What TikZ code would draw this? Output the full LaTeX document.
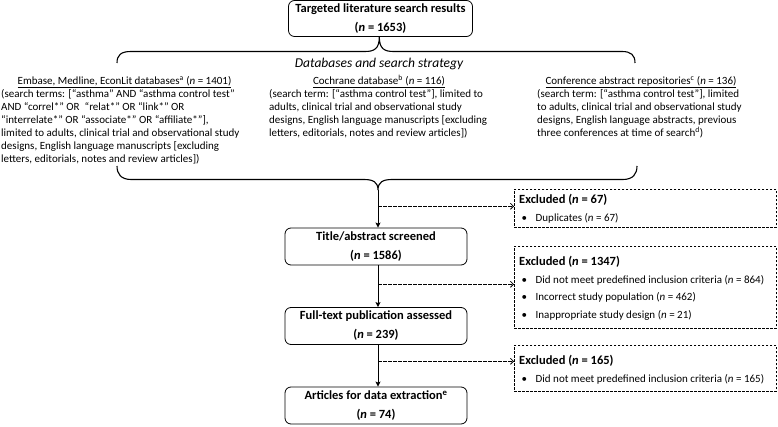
\documentclass[tikz,border=0pt]{standalone}
\usepackage{fontspec}
\setmainfont{Carlito}
\usetikzlibrary{arrows.meta,calc}
\newcommand\exhead[1]{{\fontsize{12.5}{17.5}\selectfont\bfseries #1}}
\newcommand\exitem{\hspace*{2.5pt}\makebox[14pt][l]{\textbullet}}
\begin{document}
\begin{tikzpicture}[x=1pt,y=-1pt,
  box/.style={draw, rounded corners=6pt, line width=0.8pt, align=center, inner sep=0pt, minimum width=182pt, minimum height=37pt, font=\fontsize{12.5}{19}\selectfont\bfseries},
  exbox/.style={draw, dash pattern=on 2.5pt off 1.5pt, line width=0.6pt, inner sep=0pt, anchor=north west, minimum width=262pt},
  extext/.style={align=left, inner sep=0pt, anchor=north west, font=\fontsize{11}{17.5}\selectfont},
  body/.style={align=left, inner sep=0pt, anchor=north west, font=\fontsize{11}{13}\selectfont},
  head/.style={inner sep=0pt, anchor=base, font=\fontsize{11}{13}\selectfont},
  brace/.style={line width=1.1pt},
  arr/.style={line width=1pt, -{Stealth[length=5pt,width=5pt,inset=1pt]}},
  darr/.style={line width=0.8pt, dash pattern=on 3.5pt off 1.5pt, -{Straight Barb[length=3pt,width=6pt]}}
]
\useasboundingbox (0,0) rectangle (778,427);

% main boxes
\node[box, minimum width=184pt, minimum height=36pt] (top) at (380.5,18.5) {Targeted literature search results\\(\textit{n} = 1653)};
\node[box] (title) at (376,246.5) {Title/abstract screened\\(\textit{n} = 1586)};
\node[box] (full) at (376,326) {Full-text publication assessed\\(\textit{n} = 239)};
\node[box] (art) at (376,405.5) {Articles for data extraction\textsuperscript{e}\\(\textit{n} = 74)};

% braces
\coordinate (t1) at (379.3,0);
\coordinate (b2) at (378,190);
\draw[brace] (117,63) .. controls (117,55) and (121,51.5) .. (131,51.5) -- (365,51.5)
  .. controls (374,51.5) and (379.3,49) .. (top.south -| t1)
  .. controls (379.3,49) and (384.6,51.5) .. (393.6,51.5) -- (622,51.5)
  .. controls (631,51.5) and (635,55) .. (635,63);
\draw[brace] (117,166) .. controls (117,174) and (121,179.5) .. (131,179.5) -- (364,179.5)
  .. controls (373,179.5) and (378,182) .. (b2)
  .. controls (378,182) and (383,179.5) .. (392,179.5) -- (623,179.5)
  .. controls (633,179.5) and (637,174) .. (637,166);

% search strategy text
\node[head, font=\fontsize{13.5}{15}\selectfont\itshape] (dbs) at (379,68) {Databases and search strategy};
\node[head] (embt) at (124.5,84.5) {\underline{Embase, Medline, EconLit databases\textsuperscript{a} (\textit{n} = 1401)}};
\node[body] (embb) at (1,88.4) {\strut(search terms: [“asthma” AND “asthma control test”\\AND “correl*” OR\ \ “relat*” OR “link*” OR\\“interrelate*” OR “associate*” OR “affiliate*”],\\limited to adults, clinical trial and observational study\\designs, English language manuscripts [excluding\\letters, editorials, notes and review articles])};
\node[head] (cocht) at (379,84.5) {\underline{Cochrane database\textsuperscript{b} (\textit{n} = 116)}};
\node[body] (cochb) at (269,88.4) {\strut(search term: [“asthma control test”], limited to\\adults, clinical trial and observational study\\designs, English language manuscripts [excluding\\letters, editorials, notes and review articles])};
\node[head] (conft) at (641,84.5) {\underline{Conference abstract repositories\textsuperscript{c} (\textit{n} = 136)}};
\node[body] (confb) at (537,88.4) {\strut(search term: [“asthma control test”], limited\\to adults, clinical trial and observational study\\designs, English language abstracts, previous\\three conferences at time of search\textsuperscript{d})};

% excluded boxes
\node[exbox, minimum height=38pt] (ex1) at (514,189) {};
\node[extext] (ex1t) at ([xshift=5pt,yshift=-2.25pt]ex1.north west) {\strut\exhead{Excluded (\textit{n} = 67)}\\\exitem Duplicates (\textit{n} = 67)};
\node[exbox, minimum height=82pt] (ex2) at (514,246) {};
\node[extext] (ex2t) at ([xshift=5pt,yshift=-7.25pt]ex2.north west) {\strut\exhead{Excluded (\textit{n} = 1347)}\\\exitem Did not meet predefined inclusion criteria (\textit{n} = 864)\\\exitem Incorrect study population (\textit{n} = 462)\\\exitem Inappropriate study design (\textit{n} = 21)};
\node[exbox, minimum height=46pt] (ex3) at (514,345) {};
\node[extext] (ex3t) at ([xshift=5pt,yshift=-7.25pt]ex3.north west) {\strut\exhead{Excluded (\textit{n} = 165)}\\\exitem Did not meet predefined inclusion criteria (\textit{n} = 165)};

% arrows
\draw[arr] (b2) -- (b2 |- title.north);
\draw[arr] (title.south -| b2) -- (full.north -| b2);
\draw[arr] (full.south -| b2) -- (art.north -| b2);
\coordinate (e1) at ([yshift=2pt]ex1.west);
\coordinate (e2) at ([yshift=3pt]ex2.west);
\coordinate (e3) at ([yshift=7pt]ex3.west);
\draw[darr] (e1 -| b2) -- (e1);
\draw[darr] (e2 -| b2) -- (e2);
\draw[darr] (e3 -| b2) -- (e3);
\end{tikzpicture}
\end{document}
